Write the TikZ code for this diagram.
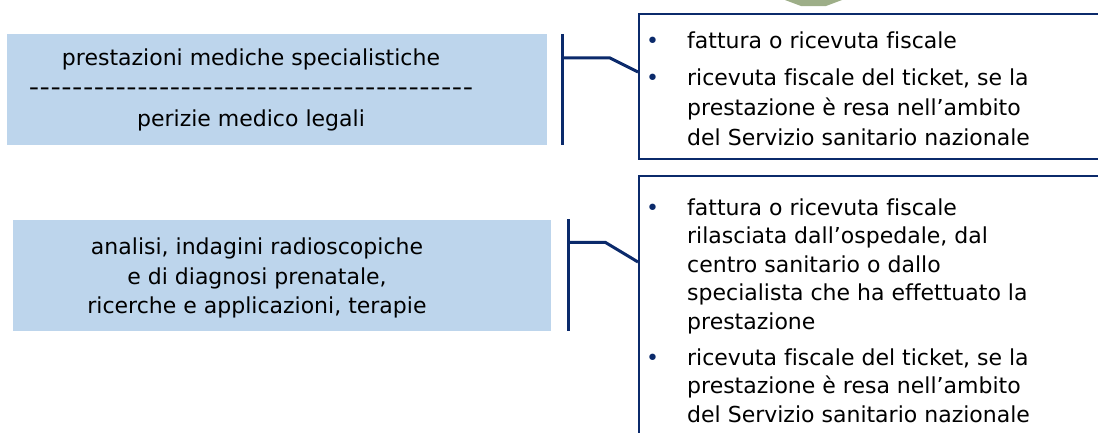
\documentclass[tikz,border=0pt]{standalone}
\usepackage{fontspec}
\setmainfont{DejaVu Sans}[Ligatures=NoCommon]
\usepackage{enumitem}
\usetikzlibrary{calc}
\definecolor{navy}{HTML}{0B2A6B}
\definecolor{paleblue}{HTML}{BDD5EC}
\definecolor{sage}{HTML}{9DAE88}
\newcommand{\dashrow}{\foreach \d in {1,...,41}{\makebox[10.85pt]{\scalebox{1.3}[1.1]{-}}}}
\tikzset{
  leftbox/.style={fill=paleblue, minimum width=540pt, minimum height=111pt, inner sep=0pt},
  rightbox/.style={draw=navy, line width=1.6pt, anchor=north west, inner sep=0pt, align=left},
  bracket/.style={draw=navy, line width=3pt},
  link/.style={draw=navy, line width=3pt, line join=miter}
}
\newcommand{\bulletlist}[1]{%
  \begin{minipage}{470pt}
  \begin{itemize}[leftmargin=49pt, labelsep=28pt, itemsep=7.5pt, topsep=0pt, partopsep=0pt, parsep=0pt,
    label={\textcolor{navy}{\textbullet}}]
  #1
  \end{itemize}
  \end{minipage}}

\begin{document}
\begin{tikzpicture}[x=1pt, y=-1pt, font=\fontsize{22}{30}\selectfont]
				%%%%% START %%%%%
				\useasboundingbox (0,0) rectangle (1098,432);

				\fill[sage] (785,0) -- (842,0) -- (826,6) -- (801,6) -- cycle;

				\node[leftbox] (lb1) at (276.5,89.5) {};
				\node[align=center] (lt1) at (251,90) {prestazioni mediche specialistiche\\[0pt]
				  \dashrow\\[1pt] perizie medico legali};

				\node[leftbox, minimum width=538pt] (lb2) at (282,275) {};
				\node[align=center, font=\fontsize{22}{29.5}\selectfont] (lt2) at (257,278) {analisi, indagini radioscopiche\\
				  e di diagnosi prenatale,\\ ricerche e applicazioni, terapie};

				\node[rightbox, minimum width=480pt, minimum height=145pt] (rb1) at (638,13) {};
				\node[anchor=north west, inner sep=0pt] (rt1) at (638,31.5) {\bulletlist{%
				  \item fattura o ricevuta fiscale
				  \item ricevuta fiscale del ticket, se la\\ prestazione è resa nell’ambito\\ del Servizio sanitario nazionale}};

				\node[rightbox, minimum width=480pt, minimum height=300pt] (rb2) at (638,175) {};
				\node[anchor=north west, inner sep=0pt, font=\fontsize{22}{28.5}\selectfont] (rt2) at (638,198.5) {\bulletlist{%
				  \item fattura o ricevuta fiscale\\ rilasciata dall’ospedale, dal\\ centro sanitario o dallo\\
				  specialista che ha effettuato la\\ prestazione
				  \item ricevuta fiscale del ticket, se la\\ prestazione è resa nell’ambito\\ del Servizio sanitario nazionale}};

				% brackets
				\coordinate (b1top) at ($(lb1.north east)+(16,0)$);
				\coordinate (b1bot) at ($(lb1.south east)+(16,0)$);
				\draw[bracket] (b1top) -- (b1bot);
				\draw[link] ($(b1top)+(0,24)$) -- ++(47,0) -- ($(rb1.north west)+(0,59)$);

				\coordinate (b2top) at ($(lb2.north east)+(17,0)$);
				\coordinate (b2bot) at ($(lb2.south east)+(17,0)$);
				\draw[bracket] (b2top) -- (b2bot);
				\draw[link] ($(b2top)+(0,23)$) -- ++(37,0) -- ($(rb2.north west)+(0,87)$);
				%%%%% END %%%%%
\end{tikzpicture}
\end{document}
